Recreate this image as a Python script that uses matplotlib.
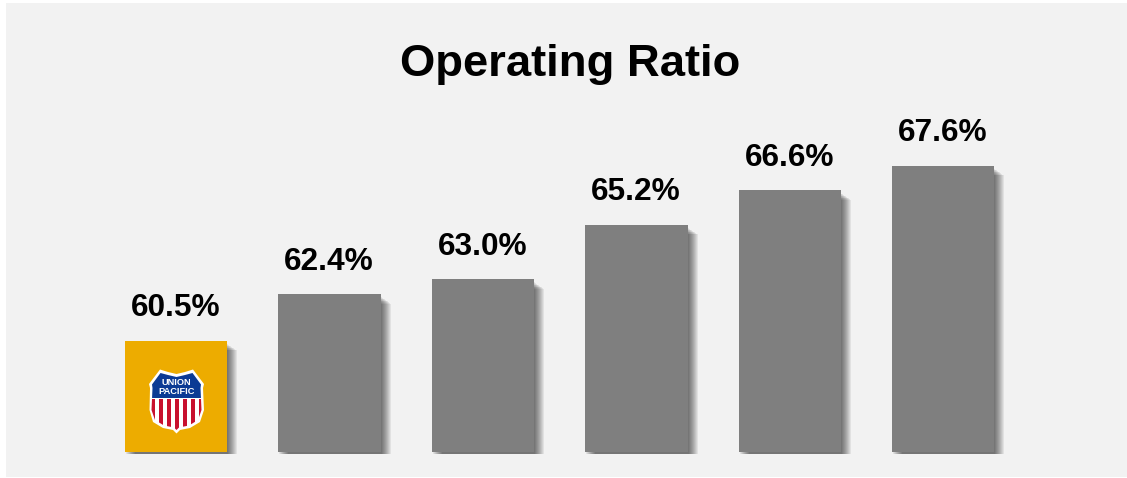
import matplotlib
matplotlib.use("Agg")
import matplotlib.pyplot as plt
from matplotlib.patches import Rectangle, Polygon
from matplotlib.transforms import Affine2D

plt.rcParams['font.family'] = ['Liberation Sans', 'DejaVu Sans']

title = "Operating Ratio"
categories = ["Union Pacific", "Peer 1", "Peer 2", "Peer 3", "Peer 4", "Peer 5"]
values = [60.5, 62.4, 63.0, 65.2, 66.6, 67.6]
labels = ["60.5%", "62.4%", "63.0%", "65.2%", "66.6%", "67.6%"]
bar_colors = ["#EDAC00", "#7F7F7F", "#7F7F7F", "#7F7F7F", "#7F7F7F", "#7F7F7F"]

W, H = 1127, 478
fig = plt.figure(figsize=(W / 100, H / 100), dpi=100, facecolor="white")
px = Affine2D().scale(1, -1).translate(0, H)   # reference pixel coordinates

fig.add_artist(Rectangle((6, 3), W - 6, 474, transform=px, facecolor="#F2F2F2",
                         edgecolor="none", zorder=-5))

# axes: baseline at y=452, first bar centre x=176.2, spacing 153.4 px
spacing = 153.4
left, right = 176.2 - spacing / 2, 176.2 + spacing * 5.5
top, base = 100, 452
ax = fig.add_axes([left / W, (H - base) / H, (right - left) / W, (base - top) / H])
ax.set_xlim(-0.5, 5.5)
ymin = 56.0
unit = 24.68
ax.set_ylim(ymin, ymin + (base - top) / unit)
ax.axis("off")
ax.patch.set_visible(False)

xs = list(range(len(values)))
width = 102.5 / spacing

# soft drop shadow: stacked translucent layers
n_layers = 10
for i in range(1, n_layers + 1):
    shrink = (2.5 + i * 0.7) / unit
    ax.bar(xs, [v - shrink - ymin + 2.2 / unit for v in values], bottom=ymin - 2.2 / unit,
           width=width, color="black", alpha=0.068, linewidth=0,
           transform=ax.transData + Affine2D().translate(i, 0), clip_on=False, zorder=1)

bars = ax.bar(xs, [v - ymin for v in values], bottom=ymin, width=width,
              color=bar_colors, linewidth=0, zorder=2)

for x, v, lab in zip(xs, values, labels):
    ax.annotate(lab, (x, v), xytext=(-0.4, 17.6), textcoords="offset points", ha="center",
                va="baseline", fontsize=22.8, fontweight="bold", color="black", zorder=5)

fig.text(570 / W, (H - 64.7) / H, title, ha="center", va="center", fontsize=32.7,
         fontweight="bold", color="black")

# Union Pacific shield logo
outline = [(149, 384), (160, 369.5), (168, 372), (176.5, 374), (185, 372), (193, 369.5),
           (204, 384), (203, 388), (204, 410), (200, 422), (190, 428), (180, 430),
           (176.5, 433.5), (173, 430), (163, 428), (153, 422), (149.5, 410), (150, 388)]
inner = [(152, 384.5), (160.5, 373), (168, 375), (176.5, 377), (185, 375), (192.5, 373),
         (201, 384.5), (200.5, 388), (201.5, 410), (198, 420), (189, 425.5), (179, 427.5),
         (176.5, 430), (174, 427.5), (164, 425.5), (155, 420), (151.5, 410), (152.5, 388)]
fig.add_artist(Polygon(outline, closed=True, transform=px, facecolor="white", edgecolor="none", zorder=6))
clip = Polygon(inner, closed=True, transform=px, facecolor="white", edgecolor="none", zorder=6)
fig.add_artist(clip)

blue = Rectangle((148, 368), 58, 30, transform=px, facecolor="#0B3A94", edgecolor="none", zorder=7)
fig.add_artist(blue)
blue.set_clip_path(clip)
for sx in [151.5, 159.5, 167.5, 175.5, 183.5, 191.5, 199]:
    r = Rectangle((sx - 0.2, 398.5), 3.6, 34, transform=px, facecolor="#C8102E", edgecolor="none", zorder=7)
    fig.add_artist(r)
    r.set_clip_path(clip)

fig.text(176.5 / W, (H - 382.5) / H, "UNION", ha="center", va="center", color="white",
         fontsize=6.7, fontweight="bold", zorder=8)
fig.text(176.5 / W, (H - 391.5) / H, "PACIFIC", ha="center", va="center", color="white",
         fontsize=6.7, fontweight="bold", zorder=8)

fig.savefig("out.png", dpi=100, facecolor=fig.get_facecolor())
